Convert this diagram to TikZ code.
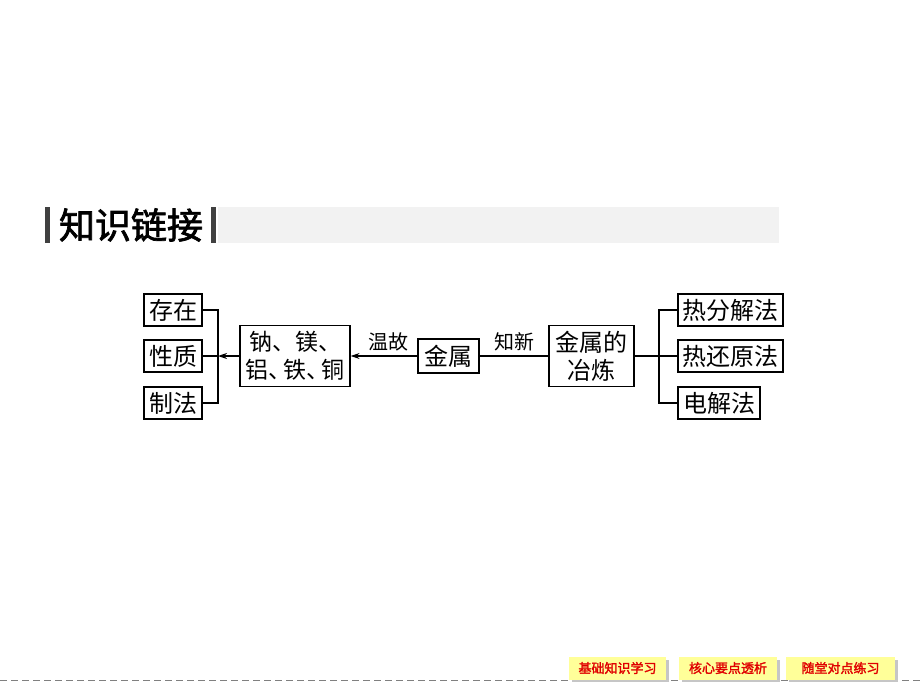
\documentclass[tikz,border=0pt]{standalone}
\usepackage{fontspec}
\usetikzlibrary{arrows.meta}
\newfontfamily\cjk[AutoFakeBold=2]{Noto Sans CJK SC}
\definecolor{btnyellow}{HTML}{FFFF99}
\definecolor{btnred}{HTML}{E00000}
\tikzset{
  box/.style={draw,line width=1.2pt,inner sep=1pt,minimum height=32,align=center,
    font=\cjk\fontsize{24}{28}\selectfont},
  lab/.style={font=\cjk\fontsize{20}{22}\selectfont},
  arr/.style={-{Stealth[length=9pt,width=6pt]}},
  btn/.style={fill=btnyellow,minimum width=97,minimum height=23,inner sep=0pt,
    text=btnred,font=\cjk\bfseries\fontsize{13}{14}\selectfont}
}
\newcommand\dun{、\hspace{-8pt}}
\begin{document}
\begin{tikzpicture}[x=1pt,y=-1pt,line width=1.2pt]
\useasboundingbox (0,0) rectangle (920,690);
% header
\fill[gray!10] (218,207) rectangle (779,243);
\fill[black!75] (45,207) rectangle (50,243);
\fill[black!75] (211,207) rectangle (216,243);
\node[font=\cjk\bfseries\fontsize{36}{38}\selectfont] (head) at (131,225) {知识链接};
% left part
\node[box,minimum width=58] (cz) at (173,310) {存在};
\node[box,minimum width=58] (xz) at (173,356) {性质};
\node[box,minimum width=58] (zf) at (173,403) {制法};
\node[box,minimum width=110,minimum height=61,font=\cjk\fontsize{23}{28}\selectfont]
  (na) at (295,356) {钠、镁、\\铝\dun 铁\dun 铜};
\node[box,minimum width=61,minimum height=34] (js) at (448.5,356) {金属};
\coordinate (lf) at (218,356);
\draw[arr] (na.west) -- (lf);
\draw (cz.east) -| (lf) |- (zf.east);
\draw (xz.east) -- (lf);
\draw[arr] (js.west) -- (na.east);
\node[lab] (wg) at (388,342) {温故};
% right part
\node[box,minimum width=85,minimum height=61] (yl) at (591.5,356) {金属的\\冶炼};
\node[box,minimum width=105] (rfj) at (730.5,310) {热分解法};
\node[box,minimum width=105] (rhy) at (730.5,356) {热还原法};
\node[box,minimum width=82] (dj) at (719,403) {电解法};
\draw (js.east) -- (yl.west);
\node[lab] (zx) at (514,342) {知新};
\coordinate (rk) at (659,356);
\draw (yl.east) -- (rk);
\draw (rfj.west) -| (rk) |- (dj.west);
\draw (rk) -- (rhy.west);
% footer
\draw[gray,line width=1pt,dash pattern=on 7pt off 4pt] (0,680) -- (920,680);
\fill[gray!45] (572,660) rectangle (669,682);
\fill[gray!45] (682,660) rectangle (780,682);
\fill[gray!45] (789,660) rectangle (898,682);
\node[btn] (b1) at (617.5,668) {基础知识学习};
\node[btn,minimum width=98] (b2) at (728,668) {核心要点透析};
\node[btn,minimum width=109] (b3) at (840.5,668) {随堂对点练习};
\end{tikzpicture}
\end{document}
